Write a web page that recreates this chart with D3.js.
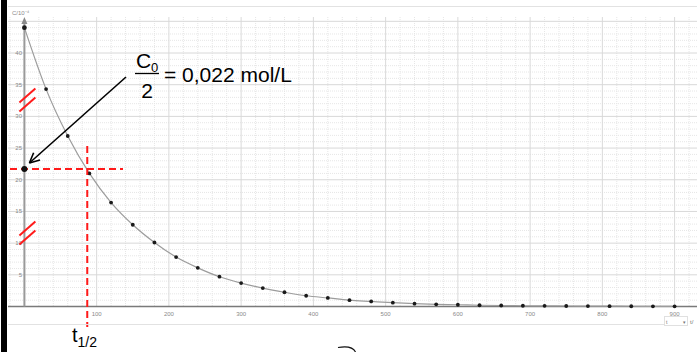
<!DOCTYPE html>
<html>
<head>
<meta charset="utf-8">
<script src="https://cdn.jsdelivr.net/npm/d3@7/dist/d3.min.js"></script>
<style>
  html, body { margin: 0; padding: 0; background: #fff; }
  svg { display: block; }
</style>
</head>
<body>
<div id="viz"></div>
<script>
// time in s, concentration (axis labelled C/10^-4)
var times = [0, 30, 60, 90, 120, 150, 180, 210, 240, 270, 300, 330, 360, 390, 420, 450,
             480, 510, 540, 570, 600, 630, 660, 690, 720, 750, 780, 810, 840, 870, 900];
var conc = [44, 34.3, 26.9, 21.0, 16.4, 12.9, 10.1, 7.8, 6.1, 4.7, 3.7, 2.9, 2.25, 1.7, 1.35, 1.0,
            0.8, 0.6, 0.45, 0.35, 0.28, 0.2, 0.16, 0.12, 0.1, 0.08, 0.06, 0.05, 0.04, 0.03, 0.02];
var xTicks = [100, 200, 300, 400, 500, 600, 700, 800, 900];
var yTicks = [5, 10, 15, 20, 25, 30, 35, 40];
var halfConc = 21.7;      // C0/2 marker on the axis
var halfTime = 87;        // t1/2 read at the red dashed line
var breakMarks = [32.5, 11.5];

var W = 697, H = 352;
var svg = d3.select('#viz').append('svg')
    .attr('width', W)
    .attr('height', H)
    .style('font-family', 'Liberation Sans, Arial, sans-serif');

var x = d3.scaleLinear().domain([0, 900]).range([24.4, 674.6]);
var y = d3.scaleLinear().domain([0, 40]).range([306.5, 53]);

var gridTop = 17, gridLeft = 8;

// top border line of the app
svg.append('line')
    .attr('x1', gridLeft).attr('x2', W)
    .attr('y1', 6.5).attr('y2', 6.5)
    .style('stroke', '#e2e2e2');

var grid = svg.append('g');

// minor grid (dotted)
d3.range(-20, 940, 20).forEach(function(t) {
  if (t % 100 === 0) return;
  grid.append('line')
    .attr('x1', x(t)).attr('x2', x(t))
    .attr('y1', gridTop).attr('y2', y(0))
    .style('stroke', '#e6e6e6')
    .style('stroke-dasharray', '1,1');
});
d3.range(1, 46, 1).forEach(function(v) {
  if (v % 5 === 0) return;
  grid.append('line')
    .attr('x1', gridLeft).attr('x2', W)
    .attr('y1', y(v)).attr('y2', y(v))
    .style('stroke', '#e6e6e6')
    .style('stroke-dasharray', '1,1');
});

// major grid
d3.range(100, 1000, 100).forEach(function(t) {
  grid.append('line')
    .attr('x1', x(t)).attr('x2', x(t))
    .attr('y1', gridTop).attr('y2', y(0))
    .style('stroke', '#dadada');
});
d3.range(5, 50, 5).forEach(function(v) {
  grid.append('line')
    .attr('x1', gridLeft).attr('x2', W)
    .attr('y1', y(v)).attr('y2', y(v))
    .style('stroke', '#d8d8d8');
});

// axes
svg.append('line')
    .attr('x1', gridLeft).attr('x2', W)
    .attr('y1', y(0)).attr('y2', y(0))
    .style('stroke', '#7a7a7a')
    .style('stroke-width', 1.6);

svg.append('line')
    .attr('x1', x(0)).attr('x2', x(0))
    .attr('y1', 22).attr('y2', y(0))
    .style('stroke', '#9a9a9a')
    .style('stroke-width', 2);
svg.append('path')
    .attr('d', 'M' + x(0) + ',17 L' + (x(0) - 3) + ',24 L' + (x(0) + 3) + ',24 Z')
    .style('fill', '#8a8a8a');

svg.selectAll('.xlab').data(xTicks).enter().append('text')
    .attr('class', 'xlab')
    .attr('x', function(d) { return x(d); })
    .attr('y', 316)
    .attr('text-anchor', 'middle')
    .style('font-size', '6px')
    .style('fill', '#8a8a8a')
    .text(function(d) { return d; });

svg.selectAll('.ylab').data(yTicks).enter().append('text')
    .attr('class', 'ylab')
    .attr('x', 22)
    .attr('y', function(d) { return y(d) + 2; })
    .attr('text-anchor', 'end')
    .style('font-size', '6px')
    .style('fill', '#8a8a8a')
    .text(function(d) { return d; });

svg.append('text')
    .attr('x', 12).attr('y', 15)
    .style('font-size', '6px')
    .style('fill', '#8a8a8a')
    .text('C/10\u207B\u2074');

// curve + points
var pts = times.map(function(t, i) { return [t, conc[i]]; });
var line = d3.line()
    .x(function(d) { return x(d[0]); })
    .y(function(d) { return y(d[1]); })
    .curve(d3.curveMonotoneX);

svg.append('path')
    .datum(pts)
    .attr('d', line)
    .style('fill', 'none')
    .style('stroke', '#9c9c9c')
    .style('stroke-width', 1.2);

svg.selectAll('.pt').data(pts).enter().append('circle')
    .attr('class', 'pt')
    .attr('cx', function(d) { return x(d[0]); })
    .attr('cy', function(d) { return y(d[1]); })
    .attr('r', function(d, i) { return i === 0 ? 2.4 : 1.9; })
    .style('fill', '#1a1a1a');

// red annotations
var red = '#ff1a1a';
svg.append('line')
    .attr('x1', 10).attr('x2', 123)
    .attr('y1', y(halfConc)).attr('y2', y(halfConc))
    .style('stroke', red)
    .style('stroke-width', 2)
    .style('stroke-dasharray', '7,4');
svg.append('line')
    .attr('x1', x(halfTime)).attr('x2', x(halfTime))
    .attr('y1', 146).attr('y2', 327)
    .style('stroke', red)
    .style('stroke-width', 2)
    .style('stroke-dasharray', '7,4');

breakMarks.forEach(function(v) {
  [-5, 4].forEach(function(off) {
    var cy = y(v) + off;
    svg.append('line')
      .attr('x1', x(0) - 5).attr('y1', cy + 7)
      .attr('x2', x(0) + 11).attr('y2', cy - 7)
      .style('stroke', red)
      .style('stroke-width', 2);
  });
});

svg.append('circle')
    .attr('cx', x(0)).attr('cy', y(halfConc))
    .attr('r', 3)
    .style('fill', '#111');

// black arrow to C0/2
var ax0 = 126, ay0 = 77, ax1 = x(0) + 5, ay1 = y(halfConc) - 6;
svg.append('line')
    .attr('x1', ax0).attr('y1', ay0)
    .attr('x2', ax1).attr('y2', ay1)
    .style('stroke', '#000')
    .style('stroke-width', 1.6);
var ang = Math.atan2(ay0 - ay1, ax0 - ax1);
[-0.45, 0.45].forEach(function(da) {
  svg.append('line')
    .attr('x1', ax1).attr('y1', ay1)
    .attr('x2', ax1 + 11 * Math.cos(ang + da))
    .attr('y2', ay1 + 11 * Math.sin(ang + da))
    .style('stroke', '#000')
    .style('stroke-width', 1.6);
});

// fraction label
var lab = svg.append('g').style('fill', '#000');
lab.append('text').attr('x', 136).attr('y', 68).style('font-size', '21px').text('C');
lab.append('text').attr('x', 151).attr('y', 72).style('font-size', '13px').text('0');
lab.append('line')
    .attr('x1', 135).attr('x2', 159)
    .attr('y1', 73.5).attr('y2', 73.5)
    .style('stroke', '#000').style('stroke-width', 1.3);
lab.append('text').attr('x', 147).attr('y', 97.5)
    .attr('text-anchor', 'middle').style('font-size', '21px').text('2');
lab.append('text').attr('x', 164).attr('y', 81.5).style('font-size', '21px').text('= 0,022 mol/L');

// t1/2 label
var tl = svg.append('text').attr('x', 72).attr('y', 341.5).style('font-size', '20px');
tl.append('tspan').text('t');
tl.append('tspan').attr('dy', 5).style('font-size', '14px').text('1/2');

// bottom strip of the app
svg.append('line')
    .attr('x1', gridLeft).attr('x2', 664)
    .attr('y1', 324.5).attr('y2', 324.5)
    .style('stroke', '#e2e2e2');
svg.append('rect')
    .attr('x', 664.5).attr('y', 316.5)
    .attr('width', 23).attr('height', 9)
    .style('fill', '#fff')
    .style('stroke', '#e0e0e0');
svg.append('text').attr('x', 666).attr('y', 323.5)
    .style('font-size', '5px').style('fill', '#777').text('t');
svg.append('text').attr('x', 683).attr('y', 323.5)
    .style('font-size', '5px').style('fill', '#777').text('\u25BE');
svg.append('text').attr('x', 690).attr('y', 323.5)
    .style('font-size', '6px').style('fill', '#777').text('t/');

// stray pen stroke at the bottom
svg.append('path')
    .attr('d', 'M338,347.5 Q352,345 355.5,352')
    .style('fill', 'none')
    .style('stroke', '#111')
    .style('stroke-width', 1.2);

// dark left edge
svg.append('rect')
    .attr('x', 1).attr('y', 0)
    .attr('width', 6).attr('height', H)
    .style('fill', '#000');
</script>
</body>
</html>
